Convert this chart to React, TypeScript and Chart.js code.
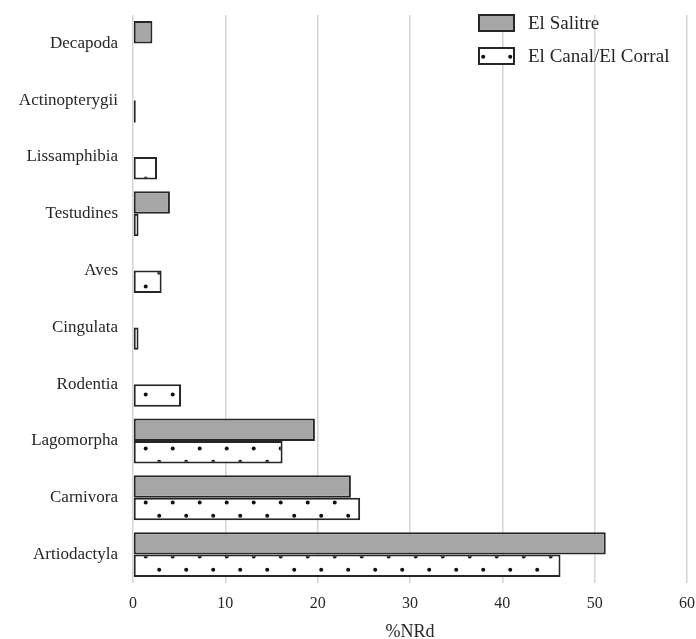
import React, { useEffect, useRef } from 'react';
import { Chart, registerables } from 'chart.js';

Chart.register(...registerables);

const categories = [
  'Decapoda',
  'Actinopterygii',
  'Lissamphibia',
  'Testudines',
  'Aves',
  'Cingulata',
  'Rodentia',
  'Lagomorpha',
  'Carnivora',
  'Artiodactyla',
];
const seriesNames = ['El Salitre', 'El Canal/El Corral'];
const elSalitre = [2.1, null, null, 4.0, null, null, null, 19.7, 23.6, 51.2];
const elCanal = [null, 0.3, 2.6, 0.6, 3.1, 0.6, 5.2, 16.2, 24.6, 46.3];
const xMin = 0;
const xMax = 60;
const xStep = 10;
const xTitle = '%NRd';

const FONT = '"Liberation Serif", "Times New Roman", serif';
const TEXT = '#262626';
const EDGE = '#262626';

function makeDotPattern(ctx: CanvasRenderingContext2D): CanvasPattern | string {
  const c = document.createElement('canvas');
  c.width = 27;
  c.height = 27;
  const g = c.getContext('2d');
  if (!g) return '#ffffff';
  g.fillStyle = '#ffffff';
  g.fillRect(0, 0, 27, 27);
  g.fillStyle = '#111111';
  g.beginPath();
  g.arc(10.7, 16.5, 2, 0, Math.PI * 2);
  g.fill();
  g.beginPath();
  g.arc(24.2, 2.8, 2, 0, Math.PI * 2);
  g.fill();
  return ctx.createPattern(c, 'repeat') || '#ffffff';
}

const legendPlugin = {
  id: 'boxLegend',
  afterDraw(chart: any) {
    const ctx: CanvasRenderingContext2D = chart.ctx;
    const area = chart.chartArea;
    const bw = 37;
    const bh = 18;
    const bx = area.left + 345;
    chart.data.datasets.forEach((d: any, i: number) => {
      const by = area.top - 1 + i * 33;
      ctx.save();
      ctx.fillStyle = d.backgroundColor;
      ctx.fillRect(bx, by, bw, bh);
      ctx.lineWidth = 2;
      ctx.strokeStyle = EDGE;
      ctx.strokeRect(bx + 1, by + 1, bw - 2, bh - 2);
      ctx.fillStyle = TEXT;
      ctx.font = `19px ${FONT}`;
      ctx.textBaseline = 'middle';
      ctx.textAlign = 'left';
      ctx.fillText(d.label, bx + bw + 13, by + bh / 2 + 1);
      ctx.restore();
    });
  },
};

export default function App() {
  const ref = useRef<HTMLCanvasElement | null>(null);

  useEffect(() => {
    const canvas = ref.current;
    if (!canvas) return;
    const ctx = canvas.getContext('2d');
    if (!ctx) return;
    const dots = makeDotPattern(ctx);

    const chart = new Chart(ctx, {
      type: 'bar',
      data: {
        labels: categories,
        datasets: [
          {
            label: seriesNames[0],
            data: elSalitre as any,
            backgroundColor: '#a6a6a6',
            borderColor: EDGE,
            borderWidth: 2,
            borderSkipped: false,
            categoryPercentage: 0.79,
            barPercentage: 1.0,
          },
          {
            label: seriesNames[1],
            data: elCanal as any,
            backgroundColor: dots as any,
            borderColor: EDGE,
            borderWidth: 2,
            borderSkipped: false,
            categoryPercentage: 0.79,
            barPercentage: 1.0,
          },
        ],
      },
      options: {
        indexAxis: 'y',
        responsive: false,
        animation: false,
        devicePixelRatio: 1,
        layout: { padding: { top: 15, right: 9, bottom: 0, left: 0 } },
        plugins: {
          legend: { display: false },
          tooltip: { enabled: false },
        },
        scales: {
          x: {
            min: xMin,
            max: xMax,
            ticks: {
              stepSize: xStep,
              color: TEXT,
              font: { family: FONT, size: 16 },
              padding: 11,
            },
            grid: { color: '#d4d4d4', lineWidth: 1.5, drawTicks: false },
            border: { display: false },
            title: {
              display: true,
              text: xTitle,
              color: TEXT,
              font: { family: FONT, size: 18, lineHeight: 0.8 },
              padding: { top: 0, bottom: 0 },
            },
            afterFit: (s: any) => {
              s.height = 56;
              s.paddingLeft = 0;
              s.paddingRight = 0;
            },
          },
          y: {
            ticks: {
              color: TEXT,
              font: { family: FONT, size: 17 },
              padding: 15,
            },
            grid: { display: false, drawTicks: false },
            border: { display: false },
            afterFit: (s: any) => {
              s.width = 133;
              s.paddingTop = 0;
              s.paddingBottom = 0;
            },
          },
        },
      },
      plugins: [legendPlugin],
    });

    return () => chart.destroy();
  }, []);

  return (
    <div style={{ position: 'absolute', left: 0, top: 0, width: 696, height: 639, background: '#ffffff' }}>
      <canvas ref={ref} width={696} height={639} style={{ display: 'block' }} />
    </div>
  );
}
